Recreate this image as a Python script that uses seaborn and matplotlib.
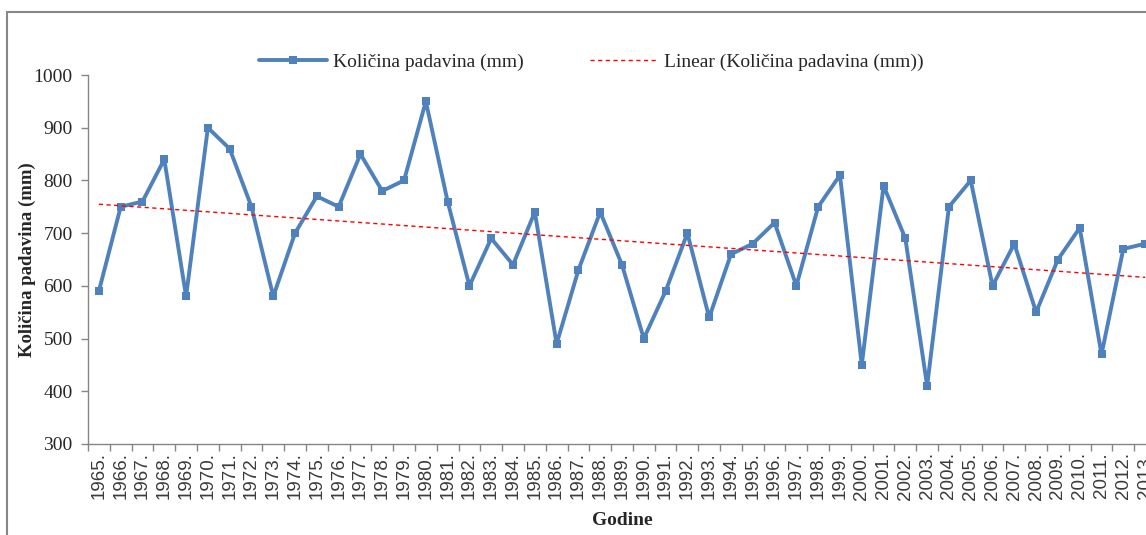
import numpy as np
import pandas as pd
import matplotlib.pyplot as plt
import seaborn as sns
from matplotlib.patches import Rectangle

years = list(range(1965, 2014))
padavine = [590, 750, 760, 840, 580, 900, 860, 750, 580, 700,
            770, 750, 850, 780, 800, 950, 760, 600, 690, 640,
            740, 490, 630, 740, 640, 500, 590, 700, 540, 660,
            680, 720, 600, 750, 810, 450, 790, 690, 410, 750,
            800, 600, 680, 550, 650, 710, 470, 670, 680]
year_labels = [f"{y}." for y in years]
series_name = "Količina padavina (mm)"
trend_name = "Linear (Količina padavina (mm))"

df = pd.DataFrame({"pos": np.arange(len(years)), "val": padavine})
# Excel-style linear trendline fitted to the series
k, n = np.polyfit(df["pos"], df["val"], 1)
df["trend"] = k * df["pos"] + n

sns.set_style("white")
plt.rcParams['font.family'] = ['Liberation Serif', 'DejaVu Serif']

fig = plt.figure(figsize=(11.46, 5.35), dpi=100)
ax = fig.add_axes([88 / 1146, 1 - 444 / 535, 1068 / 1146, 369 / 535])

sns.lineplot(data=df, x="pos", y="val", ax=ax, color="#4F81BD", linewidth=2.8,
             marker="s", markersize=6, markeredgewidth=0, label=series_name)
sns.lineplot(data=df, x="pos", y="trend", ax=ax, color="red", linewidth=1.0,
             linestyle=(0, (3, 2.5)), label=trend_name)

ax.set_xlim(-0.5, len(years) - 0.5)
ax.set_ylim(300, 1000)
ax.set_yticks(range(300, 1001, 100))
ax.set_xticks(df["pos"])
ax.set_xticklabels(year_labels, rotation=90, family='Liberation Sans',
                   fontsize=13.5, color="#3a3a3a")
ax.set_xticks(np.arange(-0.5, len(years)), minor=True)
ax.tick_params(axis="x", which="major", length=0, pad=6)
ax.tick_params(axis="x", which="minor", length=5, color="#868686", width=1, direction="out")
ax.tick_params(axis="y", length=5, color="#868686", width=1, direction="out",
               labelsize=14, pad=6)
ax.tick_params(left=True, bottom=True, which="both")

for s in ["top", "right"]:
    ax.spines[s].set_visible(False)
for s in ["left", "bottom"]:
    ax.spines[s].set_color("#868686")
    ax.spines[s].set_linewidth(1)

ax.set_xlabel("Godine", fontsize=14, fontweight="bold", labelpad=9)
ax.set_ylabel("Količina padavina (mm)", fontsize=13.5, fontweight="bold", labelpad=-1.5)

ax.get_legend().remove()
handles, labels = ax.get_legend_handles_labels()
fig.legend(handles, labels, loc="center", bbox_to_anchor=(591 / 1146, 1 - 62 / 535),
           ncol=2, frameon=False, fontsize=14, handlelength=3.5,
           handletextpad=0.3, columnspacing=3.4)

# outer chart border, cut off on the right and bottom like the source
fig.add_artist(Rectangle((7 / 1146, -0.2), 1.5, 1.2 - 12 / 535, transform=fig.transFigure,
                         fill=False, edgecolor="#878787", linewidth=1.5))

fig.savefig("out.png", dpi=100)
